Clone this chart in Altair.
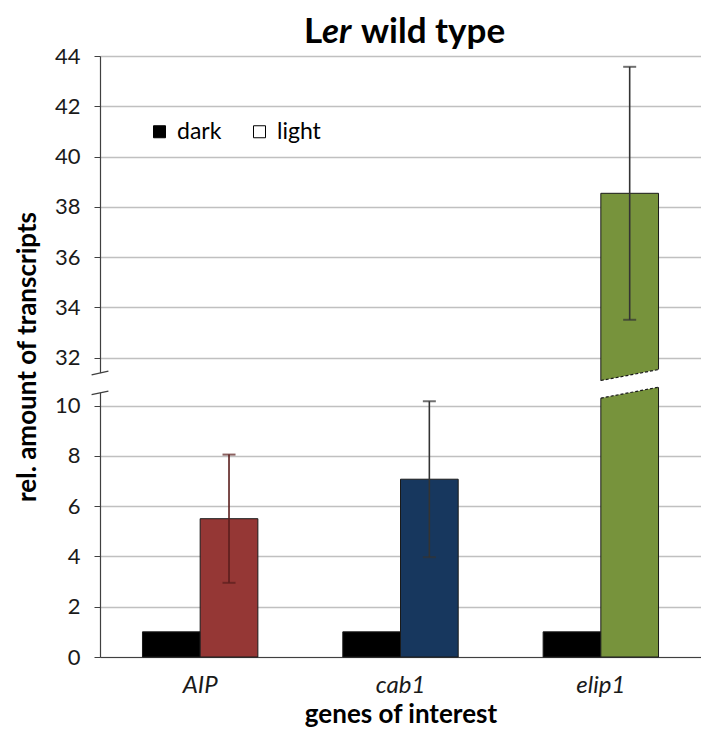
import altair as alt
import pandas as pd

# ---------------- data ----------------
genes = ["AIP", "cab1", "elip1"]
conditions = ["dark", "light"]
dark_vals = [1.0, 1.0, 1.0]
light_vals = [5.5, 7.07, 38.54]
light_err = [2.55, 3.1, 5.03]
light_colors = ["#953735", "#17375E", "#77933C"]
err_colors = ["#5a1e1d", "#333333", "#333333"]

y_ticks_low = [0, 2, 4, 6, 8, 10]
y_ticks_high = [32, 34, 36, 38, 40, 42, 44]

# broken axis: values above the break are shifted down by BREAK_OFFSET
BREAK_OFFSET = 20.1
Y_TOP = 44

# break decoration (in plotted units)
gap_x = [2.47, 2.82]
gap_lo = [10.25, 10.78]
gap_hi = [10.95, 11.48]
axis_cut = [10.50, 11.29]

FONT = "Lato"

rows = []
for g, d, l, e, c, ec in zip(genes, dark_vals, light_vals, light_err, light_colors, err_colors):
    rows.append(dict(gene=g, cond="dark", key="dark", value=d, err=0.0, errc=ec))
    rows.append(dict(gene=g, cond="light", key=g, value=l, err=e, errc=ec))
df = pd.DataFrame(rows)

tick_vals = y_ticks_low + [round(v - BREAK_OFFSET, 3) for v in y_ticks_high]
y_domain = [0, round(Y_TOP - BREAK_OFFSET, 3)]


def brk(field):
    return f"datum.{field} > 20 ? datum.{field} - {BREAK_OFFSET} : datum.{field}"


base = alt.Chart(df).transform_calculate(
    lo="datum.value - datum.err", hi="datum.value + datum.err"
).transform_calculate(
    p=brk("value"), plo=brk("lo"), phi=brk("hi")
)

x_enc = alt.X(
    "gene:N",
    sort=genes,
    scale=alt.Scale(paddingInner=0.424, paddingOuter=0.212),
    axis=alt.Axis(
        title="genes of interest",
        labelAngle=0,
        labelFontStyle="italic",
        labelFont=FONT,
        labelFontSize=24,
        labelColor="#1a1a1a",
        labelPadding=16,
        ticks=False,
        domainColor="#404040",
        domainWidth=1.2,
        titleFont=FONT,
        titleFontSize=26,
        titleFontWeight="bold",
        titleColor="#000000",
        titlePadding=4,
        grid=False,
    ),
)
xo_enc = alt.XOffset("cond:N", sort=conditions, scale=alt.Scale(paddingInner=0, paddingOuter=0))

label_expr = (
    f"datum.value > 11 ? format(round(datum.value + {BREAK_OFFSET}), 'd') : format(round(datum.value), 'd')"
)

y_scale = alt.Scale(domain=y_domain, nice=False, zero=True)
y_axis = alt.Axis(
    title="rel. amount of transcripts",
    values=tick_vals,
    labelExpr=label_expr,
    labelFont=FONT,
    labelFontSize=22,
    labelColor="#1a1a1a",
    labelPadding=14,
    tickSize=6,
    tickColor="#404040",
    domainColor="#404040",
    domainWidth=1.2,
    gridColor="#c0c0c0",
    gridWidth=1.3,
    titleFont=FONT,
    titleFontSize=26,
    titleFontWeight="bold",
    titleColor="#000000",
    titlePadding=14,
)

bars = base.mark_bar(stroke="#1a1a1a", strokeWidth=1).encode(
    x=x_enc,
    xOffset=xo_enc,
    y=alt.Y("p:Q", scale=y_scale, axis=y_axis),
    fill=alt.Fill(
        "key:N",
        scale=alt.Scale(
            domain=["dark", "light"] + genes,
            range=["#000000", "#ffffff"] + light_colors,
        ),
        legend=alt.Legend(
            values=["dark", "light"],
            title=None,
            orient="none",
            legendX=48,
            legendY=64,
            direction="horizontal",
            symbolType="square",
            symbolSize=144,
            symbolStrokeColor="#000000",
            symbolStrokeWidth=1,
            labelFont=FONT,
            labelFontSize=23,
            labelColor="#000000",
            labelOffset=6,
            columnPadding=26,
        ),
    ),
)

light_only = base.transform_filter("datum.cond == 'light'")

err_rule = light_only.mark_rule(strokeWidth=1.6).encode(
    x=x_enc,
    xOffset=xo_enc,
    y=alt.Y("plo:Q", axis=y_axis),
    y2="phi:Q",
    stroke=alt.Stroke("errc:N", scale=None),
)

err_caps = light_only.transform_fold(["plo", "phi"], as_=["which", "pv"]).mark_tick(
    thickness=2, size=13
).encode(
    x=x_enc,
    xOffset=xo_enc,
    y=alt.Y("pv:Q", axis=y_axis),
    color=alt.Color("errc:N", scale=None),
)

# ---- break decorations ----
qx = alt.Scale(domain=[0, 3], nice=False, zero=False)

gap_df = pd.DataFrame({"x": gap_x, "lo": gap_lo, "hi": gap_hi})
gap = alt.Chart(gap_df).mark_area(color="#ffffff", orient="vertical").encode(
    x=alt.X("x:Q", scale=qx, axis=None),
    y=alt.Y("lo:Q", axis=y_axis),
    y2="hi:Q",
)

edge_df = pd.DataFrame(
    {
        "x": [2.5, 2.788, 2.5, 2.788],
        "y": [10.295, 10.73, 10.995, 11.43],
        "id": ["a", "a", "b", "b"],
    }
)
edges = alt.Chart(edge_df).mark_line(stroke="#1a1a1a", strokeWidth=1.2, strokeDash=[3, 2]).encode(
    x=alt.X("x:Q", scale=qx, axis=None),
    y=alt.Y("y:Q", axis=y_axis),
    detail="id:N",
)

cut_df = pd.DataFrame({"x": [0.0], "y": [axis_cut[0]], "y2": [axis_cut[1]]})
cut = alt.Chart(cut_df).mark_rule(stroke="#ffffff", strokeWidth=5).encode(
    x=alt.X("x:Q", scale=qx, axis=None),
    y=alt.Y("y:Q", axis=y_axis),
    y2="y2:Q",
)

slash_df = pd.DataFrame(
    {
        "x": [-0.042, 0.042, -0.042, 0.042],
        "y": [10.43, 10.57, 11.22, 11.37],
        "id": ["a", "a", "b", "b"],
    }
)
slashes = alt.Chart(slash_df).mark_line(stroke="#404040", strokeWidth=1.3).encode(
    x=alt.X("x:Q", scale=qx, axis=None),
    y=alt.Y("y:Q", axis=y_axis),
    detail="id:N",
)


# ---- title (mixed italic) ----
def title_piece(txt, xpos, italic=False):
    return alt.Chart(pd.DataFrame({"t": [txt]})).mark_text(
        font=FONT,
        fontSize=35,
        fontWeight="bold",
        fontStyle="italic" if italic else "normal",
        align="left",
        baseline="alphabetic",
        color="#000000",
    ).encode(text="t:N", x=alt.value(xpos), y=alt.value(-13))


title = title_piece("L", 204) + title_piece("er", 222, True) + title_piece("wild type", 261)

band_layers = alt.layer(bars, err_rule, err_caps)
deco_layers = alt.layer(gap, edges, cut, slashes, title)

chart = (
    alt.layer(band_layers, deco_layers)
    .resolve_scale(x="independent")
    .properties(width=601, height=601, padding={"left": 6, "top": 7, "right": 0, "bottom": 0})
    .configure_view(stroke=None)
    .configure(background="#ffffff")
)

chart.save("out.html", embed_options={"renderer": "svg", "actions": False})
